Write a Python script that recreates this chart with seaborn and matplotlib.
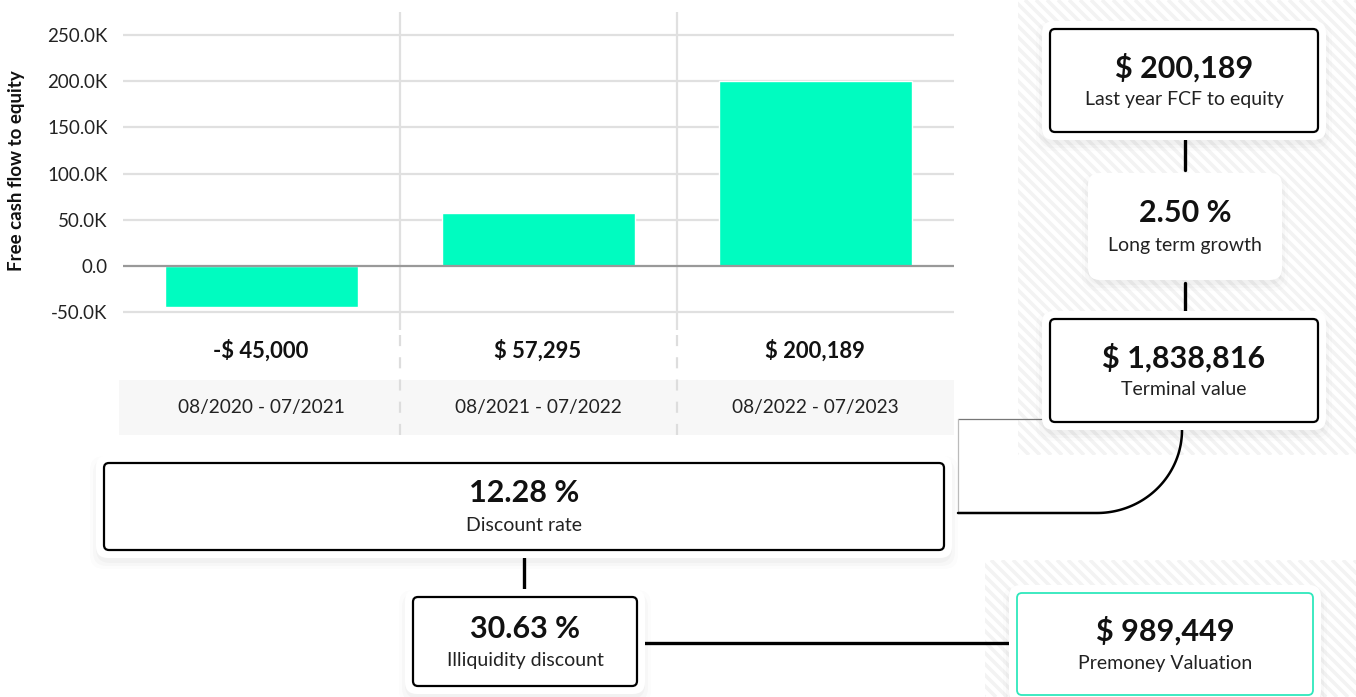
import numpy as np
import pandas as pd
import seaborn as sns
import matplotlib.pyplot as plt
from matplotlib.patches import FancyBboxPatch, Rectangle
from matplotlib.ticker import FuncFormatter

# data
periods = ['08/2020 - 07/2021', '08/2021 - 07/2022', '08/2022 - 07/2023']
fcf = [-45000, 57295, 200189]
y_ticks = [-50000, 0, 50000, 100000, 150000, 200000, 250000]

box_values = ['$ 200,189', '2.50 %', '$ 1,838,816', '12.28 %', '30.63 %', '$ 989,449']
box_labels = ['Last year FCF to equity', 'Long term growth', 'Terminal value',
              'Discount rate', 'Illiquidity discount', 'Premoney Valuation']

sns.set_theme(style='white')
plt.rcParams['font.family'] = ['Lato', 'DejaVu Sans']

W, H = 1356, 697
fig = plt.figure(figsize=(W / 100, H / 100), dpi=100)
fig.patch.set_facecolor('white')

# bar chart
ax = fig.add_axes([123 / W, 1 - 330 / H, 831 / W, 318 / H])
df = pd.DataFrame({'period': periods, 'fcf': fcf})
sns.barplot(data=df, x='period', y='fcf', color='#00fcc0', saturation=1,
            width=0.7, ax=ax, zorder=3)
ax.set_xlim(-0.5, 2.5)
ax.set_ylim(-69500, 275000)
ax.set_yticks(y_ticks)
ax.yaxis.set_major_formatter(FuncFormatter(
    lambda v, p: '0.0' if v == 0 else f'{v / 1000:.1f}K'))
ax.tick_params(axis='y', length=0, pad=11, labelsize=13.5, labelcolor='#222222')
ax.set_xticks([])
ax.set_xlabel('')
ax.set_ylabel('Free cash flow to equity', fontsize=13.5, fontweight='bold',
              color='#111111')
ax.yaxis.set_label_coords(-0.118, 0.5)
for s in ax.spines.values():
    s.set_visible(False)
for t in y_ticks:
    ax.axhline(t, color='#999999' if t == 0 else '#e0e0e0', lw=1.6, zorder=1 if t else 4)
for xv in [0.5, 1.5]:
    ax.axvline(xv, color='#e0e0e0', lw=1.6, zorder=1)
ax.patch.set_alpha(0)

# overlay for the table and the valuation flow
ov = fig.add_axes([0, 0, 1, 1], zorder=5)
ov.set_xlim(0, W)
ov.set_ylim(H, 0)
ov.axis('off')
ov.patch.set_alpha(0)

# striped background panels
for (x0, y0, w, h) in [(1018, 0, 338, 455), (985, 560, 371, 137)]:
    clip = Rectangle((x0, y0), w, h, facecolor='white', lw=0, zorder=0)
    ov.add_patch(clip)
    for s in np.arange(x0 - h, x0 + w + 10, 11):
        ln, = ov.plot([s, s + h], [y0, y0 + h], color='#f3f3f3', lw=2.6,
                      zorder=0.5, solid_capstyle='butt')
        ln.set_clip_path(clip)

# table under bars
ov.add_patch(Rectangle((119, 380), 835, 55, facecolor='#f7f7f7', lw=0, zorder=1))
for xv in [400, 677]:
    ov.plot([xv, xv], [335, 437], color='#dddddd', lw=1.6, ls=(0, (5, 5)), zorder=2)
centers = [261, 538, 815]
for cx, v, p in zip(centers, fcf, periods):
    lab = f'-$ {abs(v):,}' if v < 0 else f'$ {v:,}'
    ov.text(cx, 351, lab, ha='center', va='center', fontsize=15.8,
            fontweight='bold', color='#111111', zorder=3)
    ov.text(cx, 408, p, ha='center', va='center', fontsize=13.8,
            color='#222222', zorder=3)

# connectors
ov.plot([958, 1045], [419, 419], color='#777777', lw=0.9, zorder=2)
ov.plot([958, 958], [419, 513], color='#bbbbbb', lw=0.9, zorder=2)
th = np.linspace(0, np.pi / 2, 60)
cx_, cy_ = 1097, 430
arc_x = np.concatenate([cx_ + 85 * np.cos(th), [958]])
arc_y = np.concatenate([cy_ + 83 * np.sin(th), [513]])
ov.plot(arc_x, arc_y, color='black', lw=1.8, zorder=2)
for seg in [([1185, 1185], [140, 170]), ([1185, 1185], [283, 312]),
            ([524, 524], [558, 590]), ([640, 1008], [643, 643])]:
    ov.plot(seg[0], seg[1], color='black', lw=2.4, zorder=2)

# boxes: x0, y0, x1, y1, border colour
boxes = [(1050, 29, 1318, 132, 'black'),
         (1088, 173, 1282, 280, None),
         (1050, 319, 1318, 422, 'black'),
         (104, 463, 944, 550, 'black'),
         (413, 597, 637, 686, 'black'),
         (1017, 593, 1313, 695, '#2ee8bc')]
for (x0, y0, x1, y1, ec), val, lab in zip(boxes, box_values, box_labels):
    w, h = x1 - x0, y1 - y0
    pad = 8 if ec else 0
    for k, a in [(pad + 8, 0.012), (pad + 5, 0.018), (pad + 2, 0.025)]:
        ov.add_patch(FancyBboxPatch((x0 - k + 2, y0 - k + 9), w + 2 * k - 4, h + 2 * k - 6,
                                    boxstyle='round,pad=0,rounding_size=14',
                                    facecolor='black', alpha=a, lw=0, zorder=3))
    ov.add_patch(FancyBboxPatch((x0 - pad, y0 - pad), w + 2 * pad, h + 2 * pad,
                                boxstyle='round,pad=0,rounding_size=12',
                                facecolor='white', lw=0, zorder=4))
    if ec:
        ov.add_patch(FancyBboxPatch((x0, y0), w, h,
                                    boxstyle='round,pad=0,rounding_size=5',
                                    facecolor='white', edgecolor=ec,
                                    lw=1.6 if ec == 'black' else 1.3, zorder=5))
    mid = (y0 + y1) / 2
    ov.text((x0 + x1) / 2, mid - 13, val, ha='center', va='center', fontsize=22,
            fontweight='bold', color='#111111', zorder=6)
    ov.text((x0 + x1) / 2, mid + 19, lab, ha='center', va='center', fontsize=14,
            color='#222222', zorder=6)

fig.savefig('out.png', dpi=100)
